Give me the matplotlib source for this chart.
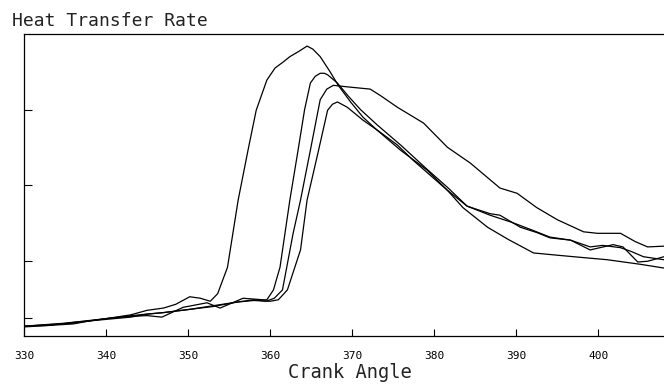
import numpy as np
import matplotlib.pyplot as plt

# Curvas (ángulo de cigüeñal, tasa en unidades arbitrarias)
angle_a = [330, 333, 336, 338, 340, 343, 345, 347, 348.5, 350.2, 351.5, 352.7, 353.6,
           354.8, 356.1, 357.3, 358.3, 359.6, 360.6, 361.6, 362.4, 363.5, 364.5, 365.2,
           366.1, 367.3, 368.3, 369.8, 371.3, 373.0, 375.9, 379.1, 381.6, 383.5, 386.5,
           389.0, 392.1, 395.0, 397.0, 401.1, 405.1, 408.0]
rate_a = [0.13, 0.15, 0.17, 0.20, 0.23, 0.28, 0.34, 0.37, 0.42, 0.52, 0.50, 0.46, 0.56,
          0.91, 1.80, 2.46, 2.99, 3.39, 3.55, 3.63, 3.70, 3.77, 3.84, 3.80,
          3.70, 3.50, 3.32, 3.10, 2.90, 2.73, 2.46, 2.20, 1.93, 1.70, 1.44,
          1.28, 1.10, 1.07, 1.05, 1.01, 0.95, 0.90]

angle_b = [330, 333, 336, 338, 340, 343, 345, 346.8, 349.4, 352.3, 353.9, 356.7, 359.1,
           359.6, 360.4, 361.2, 362.4, 363.4, 364.2, 364.9, 365.5, 366.1, 366.6, 367.0,
           368.2, 369.5, 371.0, 373.0, 376.0, 379.0, 381.6, 384.0, 386.8, 389.6, 392.0,
           394.1, 396.6, 399.0, 401.8, 403.0, 404.8, 406.0, 408.0]
rate_b = [0.13, 0.14, 0.16, 0.20, 0.23, 0.26, 0.27, 0.25, 0.38, 0.44, 0.37, 0.50, 0.48,
          0.48, 0.61, 0.91, 1.80, 2.46, 3.00, 3.35, 3.44, 3.48, 3.48, 3.46,
          3.35, 3.18, 3.00, 2.80, 2.52, 2.22, 1.97, 1.72, 1.60, 1.50, 1.40,
          1.31, 1.27, 1.14, 1.21, 1.18, 0.98, 0.99, 1.05]

angle_c = [330, 333, 336, 340, 343, 345, 347, 350, 353, 356, 358, 359.5, 360.5, 361.5,
           362.8, 363.7, 364.9, 366.1, 366.9, 367.7, 369.4, 372.2, 373.5, 375.5, 378.7,
           381.6, 384.4, 388.0, 390.1, 392.5, 395.0, 398.2, 399.9, 402.7, 404.5, 406.0,
           408.0]
rate_c = [0.12, 0.14, 0.18, 0.22, 0.25, 0.29, 0.31, 0.35, 0.39, 0.45, 0.48, 0.46, 0.50, 0.61,
          1.36, 1.80, 2.46, 3.13, 3.27, 3.32, 3.30, 3.27, 3.18, 3.03, 2.82,
          2.50, 2.29, 1.96, 1.89, 1.70, 1.54, 1.38, 1.36, 1.36, 1.25, 1.18,
          1.19]

angle_d = [330, 335, 340, 344, 347, 350, 353, 356, 358, 360, 361, 362.1, 363.7, 364.5,
           365.9, 367.0, 367.6, 368.2, 369.4, 371.3, 373.4, 375.5, 377.4, 379.5, 381.6,
           384.0, 386.8, 388.0, 390.5, 392.5, 394.1, 396.6, 399.0, 400.5, 402.7, 404.0,
           405.5, 408.0]
rate_d = [0.13, 0.17, 0.23, 0.28, 0.31, 0.35, 0.40, 0.45, 0.47, 0.46, 0.48, 0.61, 1.14, 1.80,
          2.46, 2.99, 3.07, 3.10, 3.03, 2.86, 2.70, 2.53, 2.33, 2.13, 1.93,
          1.72, 1.62, 1.60, 1.44, 1.37, 1.30, 1.27, 1.18, 1.20, 1.17, 1.12,
          1.05, 1.01]

x_ticks = [330, 340, 350, 360, 370, 380, 390, 400]
y_ticks = [0.24, 1, 2, 3]

MONO = "DejaVu Sans Mono"

fig = plt.figure(figsize=(6.64, 3.84), dpi=100)
ax = fig.add_axes([24 / 664, 48 / 384, 640 / 664, 302 / 384])

for xs, ys in [(angle_a, rate_a), (angle_b, rate_b), (angle_c, rate_c), (angle_d, rate_d)]:
    ax.plot(xs, ys, color="black", linewidth=0.9)

ax.set_xlim(330, 408)
ax.set_ylim(0, 4)

ax.set_xticks(x_ticks)
ax.set_xticklabels([str(t) for t in x_ticks], family=MONO, fontsize=8)
ax.set_yticks(y_ticks)
ax.set_yticklabels([])
ax.tick_params(axis="x", direction="in", length=5, width=0.8, pad=11)
ax.tick_params(axis="y", direction="in", length=6, width=0.8)

ax.spines["right"].set_visible(False)
for side in ["left", "bottom", "top"]:
    ax.spines[side].set_linewidth(0.9)

fig.text(12 / 664, 1 - 21 / 384, "Heat Transfer Rate", family=MONO, fontsize=13,
         va="center", ha="left", color="#222222")
fig.text(350 / 664, 1 - 373 / 384, "Crank Angle", family=MONO, fontsize=13.5,
         va="center", ha="center", color="#222222")

fig.savefig("out.png", dpi=100)
